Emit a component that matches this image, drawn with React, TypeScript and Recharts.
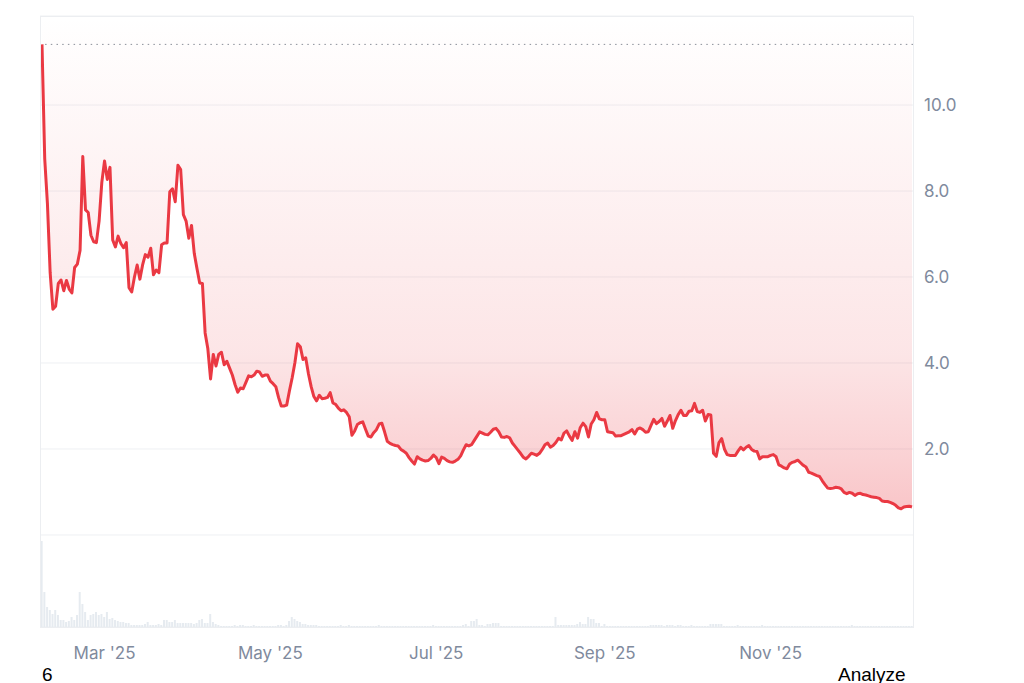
import React from 'react';
import { ComposedChart, Area, Bar, XAxis, YAxis, CartesianGrid, ReferenceLine } from 'recharts';

// daily price, Feb 6 – Dec 23 2025
const febPrices = [11.41, 8.75, 7.7, 6.1, 5.25, 5.32, 5.85, 5.93, 5.68, 5.92, 5.72, 5.63, 6.22, 6.3, 6.62, 8.8, 7.56, 7.5, 6.97, 6.82, 6.8, 7.3, 8.2];
const marPrices = [8.7, 8.27, 8.55, 6.86, 6.7, 6.95, 6.78, 6.68, 6.8, 5.75, 5.65, 6.0, 6.28, 5.95, 6.28, 6.52, 6.46, 6.67, 6.05, 6.16, 6.1, 6.75, 6.79, 6.79, 7.98, 8.05, 7.75, 8.6, 8.5, 7.45, 7.3];
const aprPrices = [6.9, 7.2, 6.55, 6.2, 5.86, 5.85, 4.7, 4.33, 3.63, 4.2, 3.93, 4.2, 4.25, 3.96, 4.04, 3.88, 3.72, 3.5, 3.32, 3.42, 3.4, 3.55, 3.7, 3.68, 3.72, 3.81, 3.79, 3.69, 3.72, 3.72];
const mayPrices = [3.58, 3.52, 3.45, 3.2, 3.0, 3.0, 3.02, 3.35, 3.65, 4.0, 4.45, 4.38, 4.08, 4.12, 3.75, 3.45, 3.22, 3.12, 3.25, 3.17, 3.18, 3.2, 3.31, 3.07, 3.04, 2.95, 2.89, 2.91, 2.85, 2.75, 2.32];
const junPrices = [2.42, 2.57, 2.61, 2.63, 2.46, 2.3, 2.28, 2.38, 2.45, 2.58, 2.6, 2.4, 2.18, 2.13, 2.1, 2.08, 2.07, 1.99, 1.95, 1.9, 1.8, 1.72, 1.65, 1.82, 1.77, 1.74, 1.72, 1.73, 1.78, 1.86];
const julPrices = [1.8, 1.66, 1.81, 1.78, 1.73, 1.7, 1.69, 1.72, 1.76, 1.84, 1.98, 2.1, 2.07, 2.1, 2.2, 2.3, 2.4, 2.37, 2.34, 2.33, 2.39, 2.46, 2.48, 2.4, 2.28, 2.27, 2.29, 2.26, 2.14, 2.06, 1.98];
const augPrices = [1.9, 1.81, 1.77, 1.83, 1.9, 1.88, 1.85, 1.9, 1.99, 2.1, 2.14, 2.04, 2.08, 2.15, 2.25, 2.21, 2.37, 2.42, 2.3, 2.2, 2.4, 2.25, 2.5, 2.6, 2.52, 2.28, 2.58, 2.68, 2.85, 2.7, 2.68];
const sepPrices = [2.68, 2.4, 2.39, 2.38, 2.3, 2.31, 2.31, 2.34, 2.37, 2.4, 2.45, 2.35, 2.46, 2.49, 2.45, 2.39, 2.4, 2.55, 2.69, 2.59, 2.64, 2.71, 2.53, 2.65, 2.78, 2.48, 2.66, 2.8, 2.9, 2.78];
const octPrices = [2.78, 2.88, 2.89, 3.06, 2.87, 2.85, 2.9, 2.65, 2.8, 2.79, 1.9, 1.83, 2.15, 2.24, 2.0, 1.87, 1.85, 1.85, 1.85, 1.95, 2.04, 1.98, 2.04, 2.08, 1.99, 1.95, 1.94, 1.77, 1.82, 1.82, 1.82];
const novPrices = [1.85, 1.87, 1.82, 1.63, 1.6, 1.56, 1.54, 1.65, 1.69, 1.71, 1.74, 1.68, 1.62, 1.58, 1.46, 1.44, 1.41, 1.38, 1.36, 1.26, 1.17, 1.09, 1.08, 1.09, 1.11, 1.1, 1.07, 0.99, 0.96, 0.99];
const decPrices = [0.97, 0.92, 0.96, 0.97, 0.94, 0.93, 0.91, 0.89, 0.88, 0.87, 0.85, 0.79, 0.78, 0.78, 0.76, 0.73, 0.69, 0.63, 0.61, 0.65, 0.66, 0.67, 0.65];

// daily volume (M)
const febVolumes = [86, 35, 20, 17, 13, 17, 12, 7, 7, 5, 6, 10, 7, 12, 35, 23, 15, 7, 12, 13, 15, 12, 13];
const marVolumes = [10, 15, 8, 9, 7, 6, 5, 5, 4, 4, 2, 2, 2, 2, 2, 3, 5, 2, 2, 2, 3, 2, 7, 7, 5, 5, 7, 4, 4, 4, 4];
const aprVolumes = [4, 4, 3, 4, 7, 8, 4, 4, 13, 5, 3, 2, 1, 1, 1, 1, 1, 2, 1, 2, 2, 1, 1, 1, 2, 1, 1, 1, 1, 1];
const mayVolumes = [1, 1, 1, 2, 2, 1, 2, 6, 10, 8, 6, 5, 3, 3, 2, 2, 2, 2, 1, 1, 1, 1, 1, 1, 1, 1, 2, 1, 1, 2, 1];
const junVolumes = [1, 1, 1, 1, 1, 1, 1, 1, 1, 2, 1, 1, 1, 1, 1, 1, 1, 1, 1, 1, 1, 1, 1, 1, 1, 1, 1, 1, 1, 2];
const julVolumes = [1, 1, 1, 1, 1, 1, 1, 1, 1, 1, 2, 3, 1, 6, 6, 8, 2, 2, 1, 3, 3, 4, 4, 4, 1, 1, 1, 1, 1, 1, 1];
const augVolumes = [1, 1, 1, 1, 1, 1, 1, 1, 1, 1, 1, 1, 1, 10, 2, 2, 2, 2, 2, 2, 2, 3, 5, 3, 3, 10, 8, 8, 4, 4, 1];
const sepVolumes = [3, 1, 1, 1, 1, 1, 1, 1, 1, 1, 1, 1, 1, 1, 1, 1, 1, 2, 2, 2, 2, 2, 1, 2, 2, 2, 1, 2, 2, 1];
const octVolumes = [1, 1, 2, 1, 1, 1, 1, 1, 1, 3, 3, 3, 3, 3, 1, 1, 1, 1, 1, 2, 1, 1, 1, 1, 1, 1, 1, 1, 2, 1, 1];
const novVolumes = [1, 1, 1, 1, 1, 1, 1, 1, 1, 1, 1, 1, 1, 1, 1, 1, 1, 1, 1, 1, 1, 1, 1, 1, 1, 1, 1, 1, 1, 1];
const decVolumes = [2, 1, 1, 1, 1, 1, 1, 1, 1, 1, 1, 1, 1, 1, 1, 1, 1, 1, 1, 1, 1, 1, 1];

const monthNames = ['Jan', 'Feb', 'Mar', 'Apr', 'May', 'Jun', 'Jul', 'Aug', 'Sep', 'Oct', 'Nov', 'Dec'];
const xTickDates = ['2025-03-01', '2025-05-01', '2025-07-01', '2025-09-01', '2025-11-01'];
const priceTicks = [2, 4, 6, 8, 10];

const months = [
  { month: 1, firstDay: 6, prices: febPrices, volumes: febVolumes },
  { month: 2, firstDay: 1, prices: marPrices, volumes: marVolumes },
  { month: 3, firstDay: 1, prices: aprPrices, volumes: aprVolumes },
  { month: 4, firstDay: 1, prices: mayPrices, volumes: mayVolumes },
  { month: 5, firstDay: 1, prices: junPrices, volumes: junVolumes },
  { month: 6, firstDay: 1, prices: julPrices, volumes: julVolumes },
  { month: 7, firstDay: 1, prices: augPrices, volumes: augVolumes },
  { month: 8, firstDay: 1, prices: sepPrices, volumes: sepVolumes },
  { month: 9, firstDay: 1, prices: octPrices, volumes: octVolumes },
  { month: 10, firstDay: 1, prices: novPrices, volumes: novVolumes },
  { month: 11, firstDay: 1, prices: decPrices, volumes: decVolumes },
];

const data = months.flatMap(({ month, firstDay, prices, volumes }) =>
  prices.map((price, i) => ({
    t: Date.UTC(2025, month, firstDay + i),
    price,
    volume: volumes[i],
  }))
);

const maxPrice = Math.max(...data.map(d => d.price));
const xTicks = xTickDates.map(d => Date.parse(d));

const formatDate = (t: number) => {
  const d = new Date(t);
  return `${monthNames[d.getUTCMonth()]} '${String(d.getUTCFullYear()).slice(2)}`;
};

const RED = '#ea3943';
const tickStyle = { fill: '#808a9d', fontSize: 17, fontFamily: 'Inter, sans-serif' };

const App: React.FC = () => {
  return (
    <div style={{ position: 'absolute', left: 0, top: 0, width: 1024, height: 683, background: '#fff' }}>
      <ComposedChart
        width={1024}
        height={683}
        data={data}
        margin={{ top: 16, left: 40, right: 51, bottom: 26 }}
      >
        <defs>
          <linearGradient id="priceFill" gradientUnits="userSpaceOnUse" x1="0" y1="16" x2="0" y2="535">
            <stop offset="0%" stopColor={RED} stopOpacity={0} />
            <stop offset="25%" stopColor={RED} stopOpacity={0.05} />
            <stop offset="65%" stopColor={RED} stopOpacity={0.13} />
            <stop offset="85%" stopColor={RED} stopOpacity={0.23} />
            <stop offset="100%" stopColor={RED} stopOpacity={0.32} />
          </linearGradient>
        </defs>
        <CartesianGrid vertical={false} stroke="#eef0f3" />
        <XAxis
          dataKey="t"
          type="number"
          domain={['dataMin', 'dataMax']}
          padding={{ left: 2, right: 1 }}
          ticks={xTicks}
          tickFormatter={formatDate}
          axisLine={false}
          tickLine={false}
          tickMargin={14}
          height={30}
          tick={tickStyle}
        />
        <YAxis
          orientation="right"
          type="number"
          domain={[-2.14, 12.07]}
          ticks={priceTicks}
          tickFormatter={(v: number) => v.toFixed(1)}
          axisLine={false}
          tickLine={false}
          tickMargin={5}
          width={60}
          tick={tickStyle}
          allowDataOverflow
        />
        <YAxis yAxisId="vol" hide domain={[0, 611]} allowDataOverflow />
        <Bar yAxisId="vol" dataKey="volume" fill="#e6ebf0" barSize={2} isAnimationActive={false} />
        <ReferenceLine y={0} stroke="#eef0f3" />
        <ReferenceLine y={maxPrice} stroke="#8a8f99" strokeDasharray="1.5 4.2" />
        <Area
          type="linear"
          dataKey="price"
          baseValue="dataMax"
          stroke={RED}
          strokeWidth={3}
          strokeLinejoin="round"
          fill="url(#priceFill)"
          fillOpacity={1}
          dot={false}
          activeDot={false}
          isAnimationActive={false}
        />
      </ComposedChart>
      <div
        style={{
          position: 'absolute',
          left: 40,
          top: 16,
          width: 874,
          height: 612,
          border: '1px solid #eceef1',
          boxSizing: 'border-box',
          pointerEvents: 'none',
        }}
      />
      <div style={{ position: 'absolute', left: 42, top: 664, fontFamily: 'Liberation Sans, Arial, sans-serif', fontSize: 19, color: '#000' }}>
        6
      </div>
      <div style={{ position: 'absolute', left: 838, top: 664, fontFamily: 'Liberation Sans, Arial, sans-serif', fontSize: 19, color: '#000' }}>
        Analyze
      </div>
    </div>
  );
};

export default App;
